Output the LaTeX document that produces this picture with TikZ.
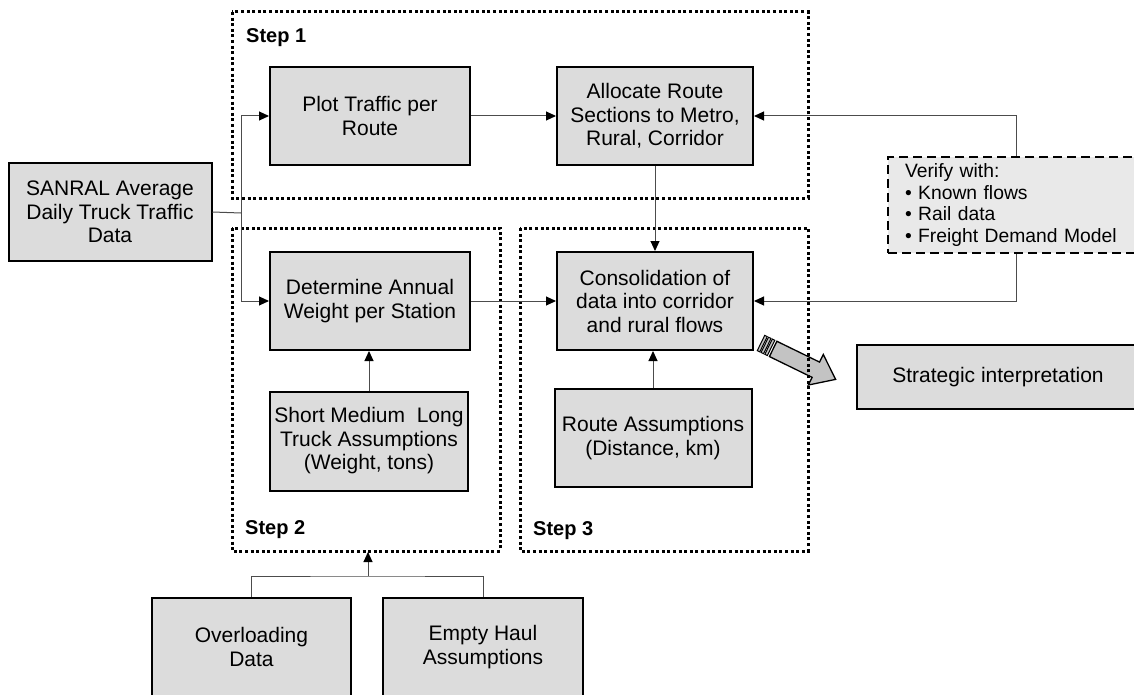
\documentclass[tikz,border=0pt]{standalone}
\usepackage{fontspec}
\setmainfont{Liberation Sans}
\usetikzlibrary{arrows.meta}
\definecolor{boxgray}{RGB}{220,220,220}
\definecolor{vergray}{RGB}{233,233,233}
\definecolor{bigarrow}{RGB}{195,195,195}
\begin{document}
\begin{tikzpicture}[x=1pt,y=-1pt,
  box/.style={draw=black,line width=2pt,fill=boxgray,align=center,inner sep=0pt,
    font=\fontsize{21}{23.5}\selectfont},
  conn/.style={draw=black!70,line width=1pt},
  arr/.style={conn,-{Triangle[length=10pt,width=9pt,color=black,fill=black]}},
  stepframe/.style={draw=black,line width=3pt,dash pattern=on 3pt off 2.6pt},
  steplabel/.style={font=\fontsize{20}{22}\selectfont\bfseries,anchor=west,inner sep=0pt},
  verify/.style={draw=black,line width=2pt,dash pattern=on 9pt off 5pt,fill=vergray,
    align=left,text width=222pt,inner xsep=17pt,minimum height=96pt,
    font=\fontsize{19.3}{21.5}\selectfont}]
\useasboundingbox (0,0) rectangle (1134,695);

% big block arrow (drawn first, frame passes over it)
\begin{scope}[shift={(761,343)},rotate=-26]
  \foreach \a in {0,4.2,8.4}
    \draw[line width=1pt,fill=bigarrow] (\a,-8.5) rectangle (\a+2.8,8.5);
  \draw[line width=1.3pt,fill=bigarrow] (13.5,-8.5) -- (61,-8.5) -- (61,-17) -- (83,0)
    -- (61,17) -- (61,8.5) -- (13.5,8.5) -- cycle;
\end{scope}

% step frames
\draw[stepframe] (232,12) rectangle (808,198);
\draw[stepframe] (232,228) rectangle (500,551);
\draw[stepframe] (520,228) rectangle (808,551);
\node[steplabel] (s1) at (246,38) {Step 1};
\node[steplabel] (s2) at (245,530) {Step 2};
\node[steplabel] (s3) at (533,531) {Step 3};

% boxes
\node[box,minimum width=200pt,minimum height=98pt] (plot) at (370,116) {Plot Traffic per\\Route};
\node[box,minimum width=196pt,minimum height=98pt] (alloc) at (655,116) {Allocate Route\\Sections to Metro,\\Rural, Corridor};
\node[box,minimum width=203pt,minimum height=98pt] (sanral) at (110,212) {SANRAL Average\\Daily Truck Traffic\\Data};
\node[box,minimum width=200pt,minimum height=98pt] (det) at (370,301) {Determine Annual\\Weight per Station};
\node[box,minimum width=198pt,minimum height=99pt] (short) at (369,441) {Short Medium\ \ Long\\Truck Assumptions\\(Weight, tons)};
\node[box,minimum width=196pt,minimum height=98pt] (cons) at (655,301) {Consolidation of\\data into corridor\\and rural flows};
\node[box,minimum width=197pt,minimum height=98pt] (route) at (653,438) {Route Assumptions\\(Distance, km)};
\node[verify] (ver) at (1016,205) {Verify with:\\\textbullet{} Known flows\\\textbullet{} Rail data\\\textbullet{} Freight Demand Model};
\node[box,minimum width=282pt,minimum height=64pt] (strat) at (998,377) {Strategic interpretation};
\node[box,minimum width=199pt,minimum height=98pt] (over) at (251.5,647) {Overloading\\Data};
\node[box,minimum width=200pt,minimum height=98pt] (empty) at (483,647) {Empty Haul\\Assumptions};

% connectors
\coordinate (j) at (241,213);
\draw[conn] (sanral.east) -- (j);
\draw[arr] (j) |- (plot.west);
\draw[arr] (j) |- (det.west);
\draw[arr] (plot.east) -- (alloc.west);
\draw[arr] (alloc.south) -- (cons.north);
\draw[arr] (det.east) -- (cons.west);
\draw[arr] (short.north) -- (short.north |- det.south);
\draw[arr] (route.north) -- (route.north |- cons.south);
\draw[arr] (ver.north) |- (alloc.east);
\draw[arr] (ver.south) |- (cons.east);
\coordinate (m) at (368,576);
\coordinate (s2b) at (368,552);
\draw[conn] (over.north) |- (m) -| (empty.north);
\draw[arr] (m) -- (s2b);
\end{tikzpicture}
\end{document}
